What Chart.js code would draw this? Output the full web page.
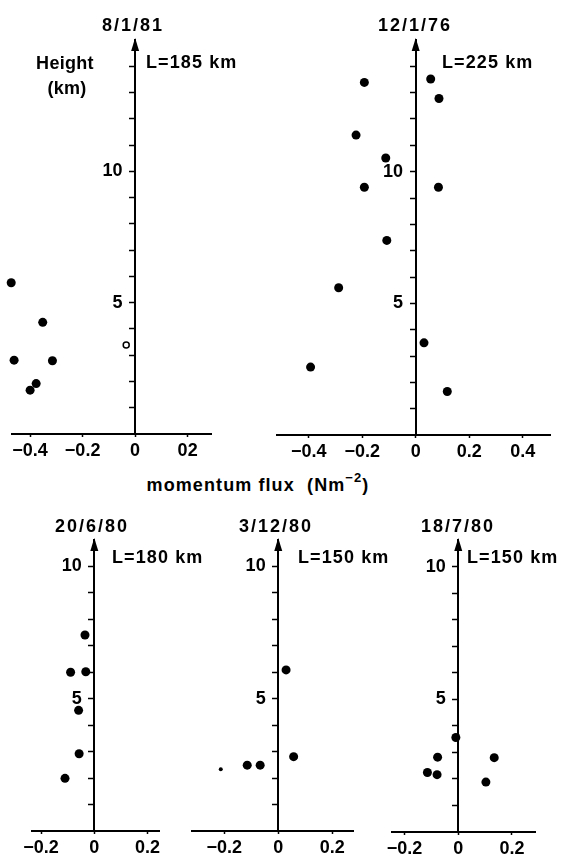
<!DOCTYPE html>
<html>
<head>
<meta charset="utf-8">
<script src="https://cdn.jsdelivr.net/npm/chart.js@4.4.1/dist/chart.umd.min.js"></script>
<style>
  html, body { margin: 0; padding: 0; background: #fff; }
  #fig { position: relative; width: 572px; height: 859px; overflow: hidden;
         font-family: "Liberation Sans", Arial, sans-serif; font-weight: bold; color: #000; }
  .box { position: absolute; }
  .txt { position: absolute; white-space: nowrap; font-size: 18px; letter-spacing: 1.1px;
         transform: translate(-50%, -50%); }
  .txt.left { transform: translate(0, -50%); }
  .txt.date { letter-spacing: 2px; }
  .txt.axis { letter-spacing: 0.3px; }
  sup { font-size: 13px; position: relative; top: -2px; }
</style>
</head>
<body>
<div id="fig"></div>
<script>
// Five momentum-flux profiles (height vs flux), one small scatter chart each.

// 8/1/81, L=185 km
var flux1 = [-0.472, -0.352, -0.461, -0.315, -0.377, -0.400];
var height1 = [5.76, 4.25, 2.81, 2.79, 1.92, 1.67];
var openFlux1 = [-0.034];
var openHeight1 = [3.39];
// 12/1/76, L=225 km
var flux2 = [-0.192, 0.056, 0.087, -0.223, -0.112, -0.192, 0.085, -0.108, -0.288, 0.031, -0.393, 0.118];
var height2 = [13.39, 13.52, 12.78, 11.39, 10.52, 9.41, 9.41, 7.39, 5.59, 3.50, 2.58, 1.65];
// 20/6/80, L=180 km
var flux3 = [-0.035, -0.089, -0.032, -0.059, -0.057, -0.110];
var height3 = [7.41, 6.00, 6.02, 4.56, 2.92, 1.99];
// 3/12/80, L=150 km
var flux4 = [0.029, 0.057, -0.115, -0.067];
var height4 = [6.09, 2.81, 2.49, 2.49];
var smallFlux4 = [-0.213];
var smallHeight4 = [2.33];
// 18/7/80, L=150 km
var flux5 = [-0.009, -0.077, 0.134, -0.115, -0.079, 0.103];
var height5 = [3.56, 2.82, 2.80, 2.24, 2.16, 1.88];

// tick values and their labels
var xTicksTop1 = [-0.4, -0.2, 0, 0.2];
var xLabelsTop1 = ['\u22120.4', '\u22120.2', '0', '02'];
var xTicksTop2 = [-0.4, -0.2, 0, 0.2, 0.4];
var xLabelsTop2 = ['\u22120.4', '\u22120.2', '0', '0.2', '0.4'];
var xTicksBottom = [-0.2, 0, 0.2];
var xLabelsBottom = ['\u22120.2', '0', '0.2'];
var yTicksTop = [1, 2, 3, 4, 5, 6, 7, 8, 9, 10, 11, 12, 13, 14];
var yTicksBottom = [1, 2, 3, 4, 5, 6, 7, 8, 9, 10];
var yLabelled = [5, 10];

var fig = document.getElementById('fig');
var TICK_FONT = { family: '"Liberation Sans", Arial, sans-serif', size: 18, weight: 'bold' };

function pts(xs, ys) {
  return xs.map(function (x, i) { return { x: x, y: ys[i] }; });
}
function dots(xs, ys, r) {
  return { data: pts(xs, ys), pointRadius: r, backgroundColor: '#000', borderWidth: 0, clip: false };
}
function rings(xs, ys) {
  return { data: pts(xs, ys), pointRadius: 3, backgroundColor: '#fff', borderColor: '#000', borderWidth: 1.5, clip: false };
}
// labels sit right-aligned on the axis line itself, so pad them off it with a trailing space
function yLabel(v) { return yLabelled.indexOf(v) >= 0 ? String(v) + '\u2002\u2009' : ''; }

// arrowhead on top of the height axis
var arrowhead = {
  id: 'arrowhead',
  afterDraw: function (chart) {
    var ctx = chart.ctx, a = chart.chartArea;
    var x = chart.scales.x.getPixelForValue(0);
    ctx.save();
    ctx.fillStyle = '#000';
    ctx.beginPath();
    ctx.moveTo(x, a.top - 2);
    ctx.lineTo(x - 4, a.top + 11);
    ctx.lineTo(x + 4, a.top + 11);
    ctx.closePath();
    ctx.fill();
    ctx.restore();
  }
};

// p: pixel box of the plot area (left/right/top/bottom) plus data ranges
function panel(p) {
  var P = 10, XH = 30;
  var w = p.right - p.left + 2 * P, h = p.bottom - p.top + P + XH;
  var box = document.createElement('div');
  box.className = 'box';
  box.style.left = (p.left - P) + 'px';
  box.style.top = (p.top - P) + 'px';
  var canvas = document.createElement('canvas');
  canvas.width = w; canvas.height = h;
  canvas.style.width = w + 'px'; canvas.style.height = h + 'px';
  box.appendChild(canvas);
  fig.appendChild(box);

  new Chart(canvas.getContext('2d'), {
    type: 'scatter',
    data: { datasets: p.sets },
    plugins: [arrowhead],
    options: {
      responsive: false, animation: false, events: [],
      layout: { padding: { left: P, right: P, top: P, bottom: 0 } },
      plugins: { legend: { display: false }, tooltip: { enabled: false } },
      scales: {
        x: {
          type: 'linear', position: 'bottom', min: p.xMin, max: p.xMax,
          border: { color: '#000', width: 2 },
          grid: { drawOnChartArea: false, tickLength: 3, tickColor: '#000', tickWidth: 1.5 },
          ticks: { color: '#000', font: TICK_FONT, padding: 3, maxRotation: 0, autoSkip: false,
                   callback: function (v, i) { return p.xLabels[i]; } },
          afterBuildTicks: function (s) { s.ticks = p.xTicks.map(function (v) { return { value: v }; }); },
          afterFit: function (s) { s.height = XH; s.paddingLeft = 0; s.paddingRight = 0; }
        },
        y: {
          type: 'linear', position: { x: 0 }, min: 0, max: p.yMax,
          border: { color: '#000', width: 2 },
          grid: { drawOnChartArea: false, tickLength: 5, tickColor: '#000', tickWidth: 1.5 },
          ticks: { color: '#000', font: TICK_FONT, autoSkip: false,
                   callback: function (v) { return yLabel(v); } },
          afterBuildTicks: function (s) { s.ticks = p.yTicks.map(function (v) { return { value: v }; }); },
          afterFit: function (s) { s.width = 0; s.paddingTop = 0; s.paddingBottom = 0; }
        }
      }
    }
  });
}

function text(html, x, y, cls) {
  var d = document.createElement('div');
  d.className = 'txt' + (cls ? ' ' + cls : '');
  d.style.left = x + 'px'; d.style.top = y + 'px';
  d.innerHTML = html;
  fig.appendChild(d);
}

panel({ left: 12, right: 211, top: 40, bottom: 434, xMin: -0.469, xMax: 0.289, yMax: 15,
        xTicks: xTicksTop1, xLabels: xLabelsTop1, yTicks: yTicksTop,
        sets: [dots(flux1, height1, 4.5), rings(openFlux1, openHeight1)] });
panel({ left: 277, right: 550, top: 40, bottom: 435, xMin: -0.5185, xMax: 0.502, yMax: 15,
        xTicks: xTicksTop2, xLabels: xLabelsTop2, yTicks: yTicksTop,
        sets: [dots(flux2, height2, 4.5)] });
panel({ left: 32, right: 159, top: 540, bottom: 831, xMin: -0.234, xMax: 0.243, yMax: 11,
        xTicks: xTicksBottom, xLabels: xLabelsBottom, yTicks: yTicksBottom,
        sets: [dots(flux3, height3, 4.5)] });
panel({ left: 192, right: 353, top: 540, bottom: 831, xMin: -0.3196, xMax: 0.277, yMax: 11,
        xTicks: xTicksBottom, xLabels: xLabelsBottom, yTicks: yTicksBottom,
        sets: [dots(flux4, height4, 4.5), dots(smallFlux4, smallHeight4, 2)] });
panel({ left: 392, right: 535, top: 540, bottom: 832, xMin: -0.247, xMax: 0.286, yMax: 11,
        xTicks: xTicksBottom, xLabels: xLabelsBottom, yTicks: yTicksBottom,
        sets: [dots(flux5, height5, 4.5)] });

text('8/1/81', 133, 25, 'date');
text('12/1/76', 415, 25, 'date');
text('Height', 65, 63, 'axis');
text('(km)', 67, 88, 'axis');
text('L=185 km', 146, 62, 'left');
text('L=225 km', 442, 62, 'left');
text('momentum flux&nbsp; (Nm<sup>\u22122</sup>)', 258, 484);
text('20/6/80', 92, 526, 'date');
text('3/12/80', 276, 526, 'date');
text('18/7/80', 458, 526, 'date');
text('L=180 km', 112, 557, 'left');
text('L=150 km', 298, 557, 'left');
text('L=150 km', 467, 557, 'left');
</script>
</body>
</html>
